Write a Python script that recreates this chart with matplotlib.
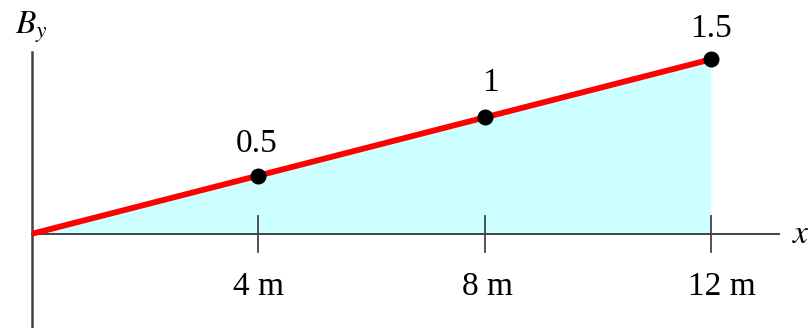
import numpy as np
import matplotlib.pyplot as plt

# field values at the marked positions along x
x_m = [0, 4, 8, 12]
by_vals = [0, 0.5, 1.0, 1.5]
tick_pos = [4, 8, 12]
tick_labels = ['4 m', '8 m', '12 m']
point_labels = ['0.5', '1', '1.5']

plt.rcParams['font.family'] = ['Liberation Serif', 'DejaVu Serif']
plt.rcParams['mathtext.fontset'] = 'stix'

fig = plt.figure(figsize=(8.1, 3.28), dpi=100)
ax = fig.add_axes([0, 0, 1, 1])
ax.set_xlim(-0.566, 13.75)
ax.set_ylim(-0.81, 2.01)
ax.axis('off')

axis_col = '#444444'
fs = 24
# shaded area under B_y
ax.fill_between(x_m, by_vals, 0, color='#ccffff', lw=0, zorder=1)

# axes
ax.plot([0, 13.2], [0, 0], color=axis_col, lw=1.4, zorder=2)
ax.plot([0, 0], [-0.81, 1.56], color=axis_col, lw=1.8, zorder=2)
lab_dx = [0, 0.05, 0.2]
for xp, lab, dx in zip(tick_pos, tick_labels, lab_dx):
    ax.plot([xp, xp], [0.15, -0.155], color=axis_col, lw=1.3, zorder=2)
    ax.text(xp + dx, -0.524, lab, ha='center', va='baseline', fontsize=fs)

ax.text(13.43, -0.077, r'$x$', ha='left', va='baseline', fontsize=fs)
ax.text(-0.3, 1.725, r'$B_y$', ha='left', va='baseline', fontsize=fs)

# B_y line and marked points
ax.plot(x_m, by_vals, color='#ff0000', lw=4.2, solid_capstyle='butt', zorder=3)
ax.plot(x_m[1:], by_vals[1:], 'o', color='black', ms=10.5, zorder=4)

offsets = [(-0.03, 0.204), (0.1, 0.227), (0, 0.188)]
for xp, yv, lab, (dx, dy) in zip(x_m[1:], by_vals[1:], point_labels, offsets):
    ax.text(xp + dx, yv + dy, lab, ha='center', va='baseline', fontsize=fs)

fig.savefig('out.png', dpi=100)
